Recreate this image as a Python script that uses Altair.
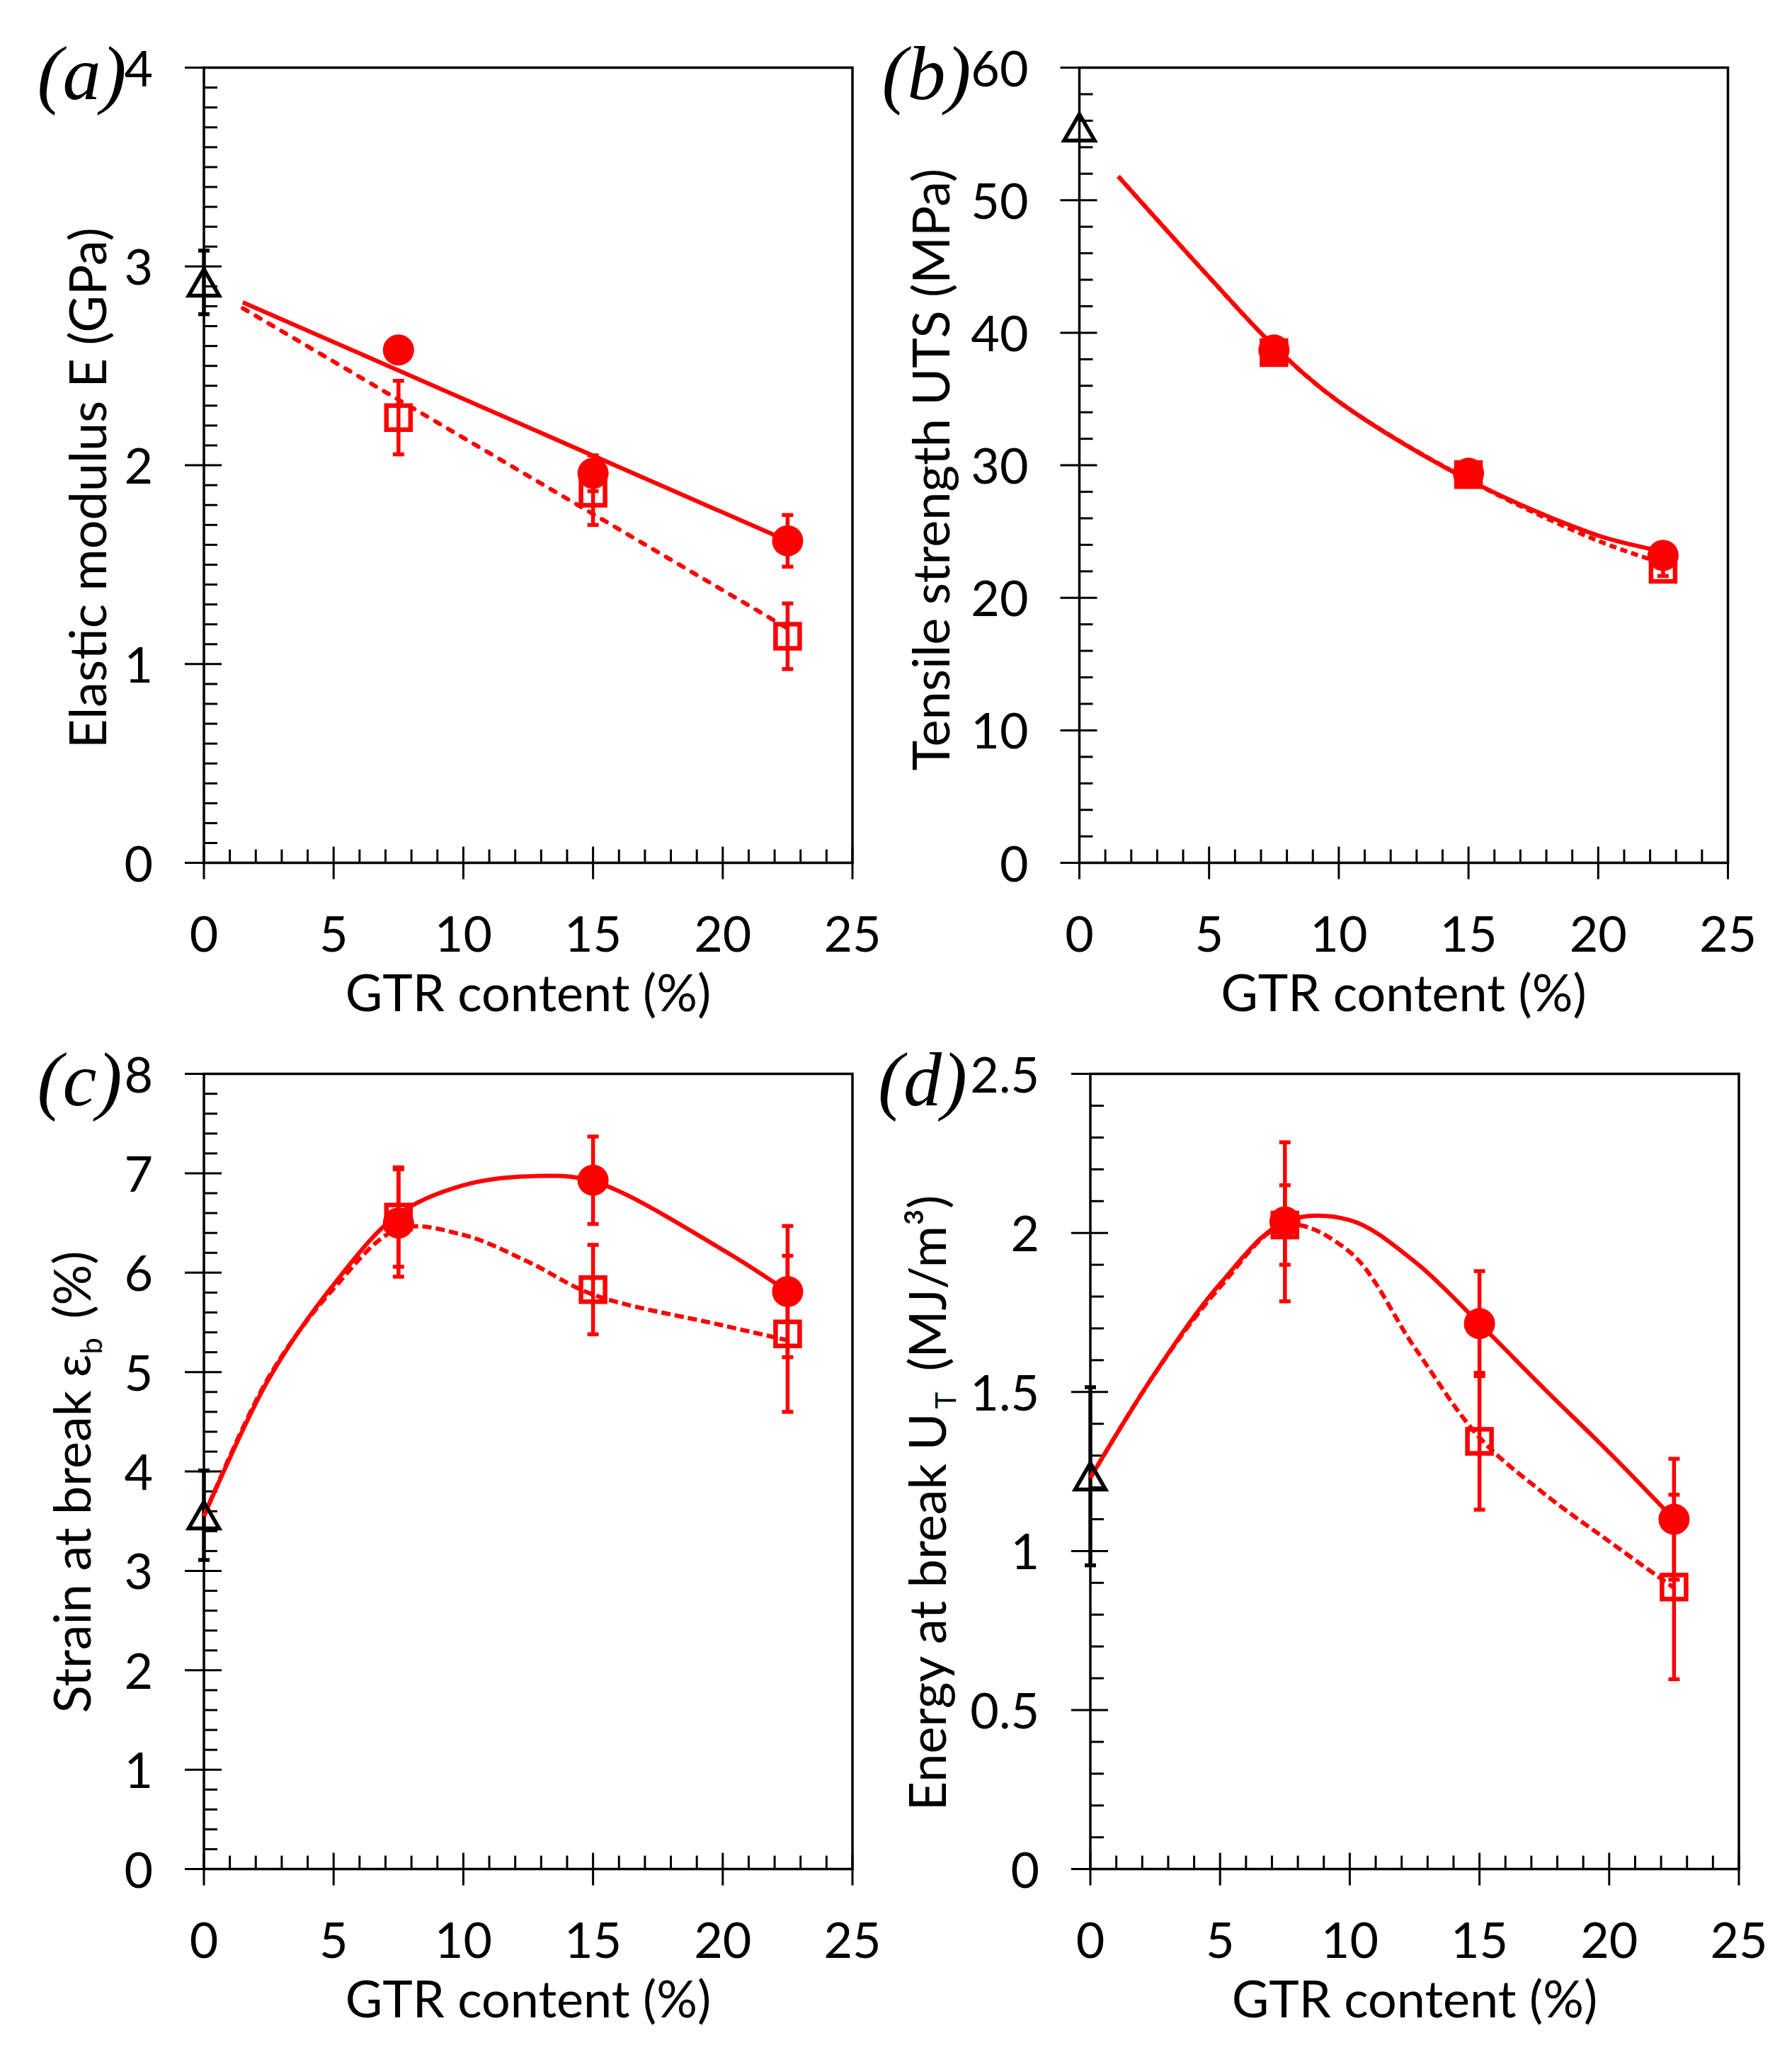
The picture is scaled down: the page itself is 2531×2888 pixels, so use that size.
import altair as alt
import numpy as np
import pandas as pd

RED = "#ff0000"
BLACK = "#000000"
SANS = "Lato"
SERIF = "Liberation Serif"

# ---------------------------------------------------------------- data
GTR = [7.5, 15.0, 22.5]  # GTR content of the composites (%)
X_MAJOR = [0, 5, 10, 15, 20, 25]

# (a) elastic modulus E (GPa)
E_NEAT, E_NEAT_ERR = 2.92, 0.16
E_FILLED = [2.58, 1.96, 1.62]
E_FILLED_ERR = [0.05, 0.09, 0.13]
E_OPEN = [2.24, 1.86, 1.14]
E_OPEN_ERR = [0.185, 0.16, 0.165]
E_FIT_X = [1.5, 22.5]
E_FIT_FILLED = [2.82, 1.62]
E_FIT_OPEN = [2.79, 1.18]

# (b) tensile strength UTS (MPa)
UTS_NEAT, UTS_NEAT_ERR = 55.5, None
UTS_FILLED = [38.7, 29.4, 23.2]
UTS_FILLED_ERR = [0.6, 0.6, 0.5]
UTS_OPEN = [38.5, 29.3, 22.15]
UTS_OPEN_ERR = [0.6, 0.6, 0.5]
UTS_FIT_X = [1.5, 5.0, 7.5, 10.0, 15.0, 20.0, 22.5]
UTS_FIT_FILLED = [51.8, 44.2, 39.0, 34.8, 28.9, 24.7, 23.5]
UTS_FIT_OPEN = [51.8, 44.2, 39.0, 34.8, 28.9, 24.3, 22.6]

# (c) strain at break (%)
EPS_NEAT, EPS_NEAT_ERR = 3.56, 0.45
EPS_FILLED = [6.50, 6.93, 5.81]
EPS_FILLED_ERR = [0.54, 0.44, 0.66]
EPS_OPEN = [6.56, 5.83, 5.385]
EPS_OPEN_ERR = [0.50, 0.45, 0.785]
EPS_FIT_X = [0.0, 2.5, 5.0, 7.5, 10.0, 12.5, 15.0, 20.0, 22.5]
EPS_FIT_FILLED = [3.55, 4.93, 5.88, 6.59, 6.88, 6.97, 6.92, 6.23, 5.81]
EPS_FIT_OPEN = [3.55, 4.95, 5.84, 6.44, 6.38, 6.11, 5.78, 5.47, 5.32]

# (d) energy at break (MJ/m3)
U_NEAT, U_NEAT_ERR = 1.235, 0.28
U_FILLED = [2.035, 1.715, 1.10]
U_FILLED_ERR = [0.25, 0.165, 0.19]
U_OPEN = [2.025, 1.345, 0.887]
U_OPEN_ERR = [0.125, 0.215, 0.29]
U_FIT_X = [0.0, 2.5, 5.0, 7.5, 10.0, 12.5, 15.0, 17.5, 20.0, 22.5]
U_FIT_FILLED = [1.23, 1.56, 1.84, 2.035, 2.04, 1.91, 1.715, 1.51, 1.31, 1.10]
U_FIT_OPEN = [1.23, 1.56, 1.83, 2.025, 1.94, 1.64, 1.357, 1.18, 1.03, 0.884]

X_TITLE = "GTR content (%)"
W, H = 916, 1123
LABEL_SIZE = 70
TITLE_SIZE = 72
TAG_SIZE = 108
LINE_W = 6


def text_layer(s, x, y, size, align="left", angle=0, font=SANS, style="normal"):
    return alt.Chart(pd.DataFrame({"t": [s]})).mark_text(
        align=align, baseline="alphabetic", angle=angle, font=font,
        fontStyle=style, fontSize=size, color=BLACK,
    ).encode(text="t:N", x=alt.value(x), y=alt.value(y))


def fmt(v):
    return f"{v:g}"


def panel(tag, tag_x, ymax, ystep, yminor_step, neat, neat_err,
          filled, filled_err, opened, opened_err, fit_x, fit_filled, fit_open,
          interpolate, dash, cap, title_parts):
    xs = alt.Scale(domain=[0, 25], nice=False, zero=False)
    ys = alt.Scale(domain=[0, ymax], nice=False, zero=False)

    def X(f):
        return alt.X(f, type="quantitative", scale=xs, axis=None)

    def Y(f):
        return alt.Y(f, type="quantitative", scale=ys, axis=None)

    x0 = alt.XDatum(0, type="quantitative", scale=xs, axis=None)
    y0 = alt.YDatum(0, type="quantitative", scale=ys, axis=None)

    y_major = [round(float(v), 6) for v in np.arange(0, ymax + 1e-9, ystep)]
    y_minor = [round(float(v), 6) for v in np.arange(0, ymax + 1e-9, yminor_step)
               if min(abs(v - m) for m in y_major) > 1e-6]
    x_minor = [v for v in range(0, 26) if v % 5]

    # axis ticks: majors cross the axis line, minors point inwards
    ytick_major = alt.Chart(pd.DataFrame({"v": y_major})).mark_tick(
        orient="horizontal", size=52, thickness=3, color=BLACK, opacity=1,
        xOffset=-1).encode(x=x0, y=Y("v"))
    ytick_minor = alt.Chart(pd.DataFrame({"v": y_minor})).mark_tick(
        orient="horizontal", size=19, thickness=3, color=BLACK, opacity=1,
        xOffset=9.5).encode(x=x0, y=Y("v"))
    xtick_major = alt.Chart(pd.DataFrame({"v": X_MAJOR})).mark_tick(
        orient="vertical", size=46, thickness=3, color=BLACK, opacity=1
    ).encode(x=X("v"), y=y0)
    xtick_minor = alt.Chart(pd.DataFrame({"v": x_minor})).mark_tick(
        orient="vertical", size=19, thickness=3, color=BLACK, opacity=1,
        yOffset=-9.5).encode(x=X("v"), y=y0)

    # tick labels
    ylab = alt.Chart(pd.DataFrame({"v": y_major, "s": [fmt(v) for v in y_major]})
                     ).mark_text(align="right", baseline="middle", dx=-72, dy=5,
                                 font=SANS, fontSize=LABEL_SIZE, color=BLACK
                                 ).encode(x=x0, y=Y("v"), text="s:N")
    xlab = alt.Chart(pd.DataFrame({"v": X_MAJOR, "s": [fmt(v) for v in X_MAJOR]})
                     ).mark_text(align="center", baseline="top", dy=70,
                                 font=SANS, fontSize=LABEL_SIZE, color=BLACK
                                 ).encode(x=X("v"), y=y0, text="s:N")

    # error bars
    rows = []
    if neat_err:
        rows.append((0.0, neat - neat_err, neat + neat_err, BLACK))
    for x, v, e in zip(GTR, filled, filled_err):
        rows.append((x, v - e, v + e, RED))
    for x, v, e in zip(GTR, opened, opened_err):
        rows.append((x, v - e, v + e, RED))
    eb = pd.DataFrame(rows, columns=["x", "lo", "hi", "c"])
    col = alt.Color("c:N", scale=None, legend=None)
    bars = alt.Chart(eb).mark_rule(strokeWidth=5.5).encode(
        x=X("x"), y=Y("lo"), y2=alt.Y2("hi"), color=col)
    caps_lo = alt.Chart(eb).mark_tick(
        orient="horizontal", size=16, thickness=5.5, opacity=1).encode(
        x=X("x"), y=Y("lo"), color=col)
    caps_hi = alt.Chart(eb).mark_tick(
        orient="horizontal", size=16, thickness=5.5, opacity=1).encode(
        x=X("x"), y=Y("hi"), color=col)

    # fitted curves
    solid = alt.Chart(pd.DataFrame({"x": fit_x, "y": fit_filled})).mark_line(
        color=RED, strokeWidth=LINE_W, interpolate=interpolate).encode(
        x=X("x"), y=Y("y"))
    dashed = alt.Chart(pd.DataFrame({"x": fit_x, "y": fit_open})).mark_line(
        color=RED, strokeWidth=LINE_W, interpolate=interpolate, strokeDash=dash,
        strokeCap=cap).encode(x=X("x"), y=Y("y"))

    # markers
    squares = alt.Chart(pd.DataFrame({"x": GTR, "y": opened})).mark_point(
        shape="square", filled=False, size=1156, strokeWidth=6.5, color=RED,
        opacity=1, strokeJoin="miter").encode(x=X("x"), y=Y("y"))
    circles = alt.Chart(pd.DataFrame({"x": GTR, "y": filled})).mark_point(
        shape="circle", filled=True, size=1936, color=RED, opacity=1
    ).encode(x=X("x"), y=Y("y"))
    tri = alt.Chart(pd.DataFrame({"x": [0.0], "y": [neat]})).mark_point(
        shape="triangle-up", filled=False, size=1850, strokeWidth=5.5,
        color=BLACK, opacity=1, strokeJoin="miter").encode(x=X("x"), y=Y("y"))

    texts = [text_layer(tag, tag_x, 44.5, TAG_SIZE, font=SERIF, style="italic"),
             text_layer(X_TITLE, W / 2, H + 209, TITLE_SIZE, align="center")]
    for s, x, y, size, align in title_parts:
        texts.append(text_layer(s, x, y, size, align=align, angle=270))

    return alt.layer(ytick_major, ytick_minor, xtick_major, xtick_minor,
                     ylab, xlab, bars, caps_lo, caps_hi, solid, dashed,
                     squares, circles, tri, *texts).properties(width=W, height=H)


pa = panel("(a)", -235.5, 4, 1, 0.1, E_NEAT, E_NEAT_ERR,
           E_FILLED, E_FILLED_ERR, E_OPEN, E_OPEN_ERR,
           E_FIT_X, E_FIT_FILLED, E_FIT_OPEN, "linear", [8, 13], "round",
           [("Elastic modulus E (GPa)", -138.5, 593.5, TITLE_SIZE, "center")])
pb = panel("(b)", -279, 60, 10, 2, UTS_NEAT, UTS_NEAT_ERR,
           UTS_FILLED, UTS_FILLED_ERR, UTS_OPEN, UTS_OPEN_ERR,
           UTS_FIT_X, UTS_FIT_FILLED, UTS_FIT_OPEN, "catmull-rom", [10, 6], "butt",
           [("Tensile strength UTS (MPa)", -183.5, 567.5, TITLE_SIZE, "center")])
pc = panel("(c)", -235.5, 8, 1, 0.2, EPS_NEAT, EPS_NEAT_ERR,
           EPS_FILLED, EPS_FILLED_ERR, EPS_OPEN, EPS_OPEN_ERR,
           EPS_FIT_X, EPS_FIT_FILLED, EPS_FIT_OPEN, "catmull-rom", [13, 6], "butt",
           [("Strain at break \u03b5", -160, 396, TITLE_SIZE, "right"),
            ("b", -144, 396, 42, "left"),
            ("(%)", -160, 346, TITLE_SIZE, "left")])
pd_ = panel("(d)", -300, 2.5, 0.5, 0.1, U_NEAT, U_NEAT_ERR,
            U_FILLED, U_FILLED_ERR, U_OPEN, U_OPEN_ERR,
            U_FIT_X, U_FIT_FILLED, U_FIT_OPEN, "catmull-rom", [13, 6], "butt",
            [("Energy at break U", -204, 479, TITLE_SIZE, "right"),
             ("T", -190, 473, 40, "left"),
             ("(MJ/m\u00b3)", -204, 420, TITLE_SIZE, "left")])

row1 = alt.hconcat(pa, pb, spacing=320.5, bounds="flush")
row2 = alt.hconcat(pc, pd_, spacing=336, bounds="flush")

chart = alt.vconcat(row1, row2, spacing=29).properties(
    padding={"left": 50, "top": 51.6, "right": 0, "bottom": 0},
    background="white",
).configure_view(
    stroke=BLACK, strokeWidth=3.5,
)

chart.save("out.html", embed_options={"renderer": "svg", "actions": False})
